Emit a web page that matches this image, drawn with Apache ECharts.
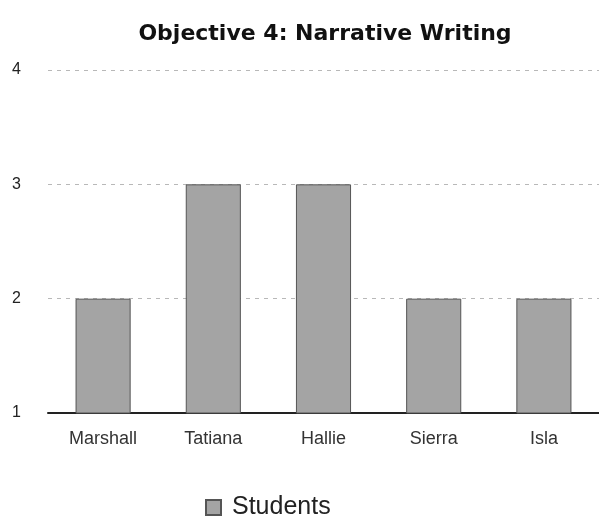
<!DOCTYPE html>
<html>
<head>
<meta charset="utf-8">
<script src="https://cdn.jsdelivr.net/npm/echarts@6/dist/echarts.min.js"></script>
<style>
  html, body { margin: 0; padding: 0; background: #fff; }
  #chart { width: 599px; height: 519px; }
</style>
</head>
<body>
<div id="chart"></div>
<script>
// Scores per student for objective 4
const students = ['Marshall', 'Tatiana', 'Hallie', 'Sierra', 'Isla'];
const scores = [2, 3, 3, 2, 2];
const yTicks = [1, 2, 3, 4];

const chart = echarts.init(document.getElementById('chart'), null, { renderer: 'canvas' });

chart.setOption({
  animation: false,
  title: {
    text: 'Objective 4: Narrative Writing',
    left: 320,
    textAlign: 'center',
    top: 18,
    textStyle: {
      fontFamily: 'DejaVu Sans, sans-serif',
      fontSize: 22,
      fontWeight: 'bold',
      color: '#111'
    }
  },
  legend: {
    data: ['Students'],
    top: 490,
    left: 200,
    icon: 'rect',
    itemWidth: 15,
    itemHeight: 15,
    itemGap: 10,
    textStyle: {
      fontFamily: 'Liberation Sans, Arial, sans-serif',
      fontSize: 25,
      color: '#222',
      padding: [0, 0, 0, 6]
    }
  },
  grid: {
    left: 48,
    right: 0,
    top: 70,
    bottom: 106,
    containLabel: false
  },
  xAxis: {
    type: 'category',
    data: students,
    axisLine: { show: true, lineStyle: { color: '#222', width: 2 } },
    axisTick: { show: false },
    axisLabel: {
      margin: 17,
      fontFamily: 'Liberation Sans, Arial, sans-serif',
      fontSize: 18,
      color: '#333'
    }
  },
  yAxis: {
    type: 'value',
    min: yTicks[0],
    max: yTicks[yTicks.length - 1],
    interval: 1,
    axisLine: { show: false },
    axisTick: { show: false },
    axisLabel: {
      margin: 36,
      align: 'left',
      fontFamily: 'Liberation Sans, Arial, sans-serif',
      fontSize: 16,
      color: '#222'
    },
    splitLine: {
      show: true,
      lineStyle: { color: '#b8b8b8', type: [4, 5], width: 1 }
    }
  },
  series: [{
    name: 'Students',
    type: 'bar',
    data: scores,
    barWidth: '50%',
    itemStyle: {
      color: '#a4a4a4',
      borderColor: '#555',
      borderWidth: 1
    }
  }]
});
</script>
</body>
</html>
